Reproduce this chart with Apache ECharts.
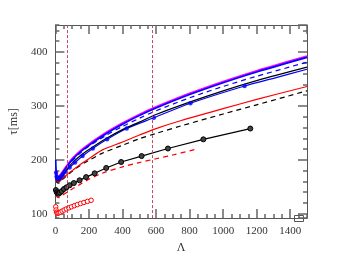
<!DOCTYPE html>
<html><head><meta charset="utf-8">
<script src="https://cdn.jsdelivr.net/npm/echarts@6/dist/echarts.min.js"></script>
<style>html,body{margin:0;padding:0;background:#fff}#c{width:349px;height:259px}</style>
</head><body><div id="c"></div>
<script>
// ---- data ----
const refLines = [70, 580];

const magentaLine = [[3,182],[8,171],[15,168],[25,171],[40,177],[70,190],[100,202],[150,217],[200,229],[300,250],[400,268],[500,284],[600,298],[800,323],[1000,345],[1200,365],[1500,392]];
const blueTop = [[2,200],[5,178],[10,168],[20,167],[40,175],[70,188],[100,200],[150,215],[200,227],[300,248],[400,266],[500,282],[600,296],[800,321],[1000,343],[1200,363],[1500,390]];
const blueDashed = [[5,172],[10,166],[20,165],[40,173],[70,186],[100,198],[150,213],[200,225],[300,245],[400,262],[500,277],[600,291],[800,315],[1000,336],[1200,355],[1500,381]];
const blackSolid = [[5,168],[10,163],[20,161],[40,168],[70,183],[100,194],[150,208],[200,219],[300,239],[400,256],[500,270],[600,284],[800,307],[1000,328],[1200,347],[1500,372]];
const blueMarkers = [[4,176],[7,169],[11,166],[16,165],[23,166],[32,168],[44,172],[61,178],[85,186],[117,195],[162,207],[223,221],[308,238],[425,258],[587,278],[805,305],[1128,337]];
const blueTail = [[1300,351],[1500,368]];
const redSolid = [[5,164],[10,160],[20,159],[40,165],[70,173],[100,180],[150,192],[200,202],[278,218],[400,233],[500,246],[600,258],[750,273],[1000,295],[1200,312],[1500,336]];
const blackDashed = [[5,162],[10,158],[20,157],[40,163],[70,171],[100,179],[150,190],[200,199],[278,212],[400,227],[500,239],[600,249],[750,263],[1000,285],[1200,302],[1500,328]];
const blackMarkers = [[3,144],[8,140],[13,138],[19,137],[27,139],[38,142],[51,146],[66,149],[85,153],[110,157],[144,162],[183,168],[234,175],[303,185],[392,196],[514,207],[671,221],[882,238],[1162,258]];
const redDashed = [[5,135],[10,131],[20,130],[40,134],[70,140],[100,146],[150,155],[200,164],[278,175],[400,187],[500,195],[600,202],[700,209],[829,219]];
const redMarkers = [[2,113],[4,107],[7,103],[11,101],[16,101],[22,102],[30,103],[40,105],[52,107],[65,109],[80,111],[96,113],[113,115],[131,117],[150,119],[170,121],[191,123],[213,125]];

const X_MIN = 0, X_MAX = 1500, X_STEP = 200, X_MINOR = 50;
const Y_MIN = 92, Y_MAX = 450;
// ---------------------------------------

const FONT = 'Liberation Serif';
const AX = '#555';
const TICK = '#666';
const lbl = { show: true, margin: 8, color: '#333', fontFamily: FONT, fontSize: 11, showMinLabel: true, showMaxLabel: false, formatter: v => String(v) };

function xAx(pos, step, len, showLine, showLabel, extra) {
  return Object.assign({
    type: 'value', min: X_MIN, max: X_MAX, interval: step, position: pos,
    axisLine: { show: showLine, onZero: false, lineStyle: { color: AX, width: 1 } },
    axisTick: { show: true, inside: true, length: len, lineStyle: { color: TICK, width: 1.5 } },
    axisLabel: showLabel ? lbl : { show: false },
    splitLine: { show: false }
  }, extra || {});
}
function yAx(pos, split, len, showLine, showLabel, extra) {
  return Object.assign({
    type: 'value', min: Y_MIN, max: Y_MAX, splitNumber: split, position: pos,
    axisLine: { show: showLine, onZero: false, lineStyle: { color: AX, width: 1 } },
    axisTick: { show: true, inside: true, length: len, lineStyle: { color: TICK, width: 1.5 } },
    axisLabel: showLabel ? Object.assign({}, lbl, { showMinLabel: false }) : { show: false },
    splitLine: { show: false }
  }, extra || {});
}

const chart = echarts.init(document.getElementById('c'), null, { renderer: 'canvas' });

function line(data, color, width, type, extra) {
  return Object.assign({
    type: 'line', data: data, xAxisIndex: 0, yAxisIndex: 0,
    showSymbol: false, symbol: 'none', smooth: 0.3,
    lineStyle: { color: color, width: width, type: type },
    itemStyle: { color: color }, silent: true, animation: false, z: 3
  }, extra || {});
}

const option = {
  animation: false,
  grid: { left: 53, right: 42, top: 25, bottom: 35, containLabel: false },
  xAxis: [
    xAx('bottom', X_STEP, 9, true, true, { name: 'Λ', nameLocation: 'middle', nameGap: 20, nameTextStyle: { color: '#333', fontFamily: FONT, fontSize: 12 } }),
    xAx('bottom', X_MINOR, 4, false, false),
    xAx('top', X_STEP, 9, true, false),
    xAx('top', X_MINOR, 4, false, false)
  ],
  yAxis: [
    yAx('left', 5, 9, true, true, { name: 'τ[ms]', nameLocation: 'middle', nameGap: 24, nameTextStyle: { color: '#333', fontFamily: FONT, fontSize: 12 } }),
    yAx('left', 18, 4, false, false),
    yAx('right', 5, 9, true, false),
    yAx('right', 18, 4, false, false)
  ],
  series: [
    line(redMarkers, '#ff0000', 1, 'solid', { showSymbol: true, symbol: 'circle', symbolSize: 4.5, itemStyle: { color: '#fff', borderColor: '#ff0000', borderWidth: 1 }, smooth: false }),
    line(redDashed, '#ff0000', 1.2, [5, 4]),
    line(blackMarkers, '#000000', 1.2, 'solid', { showSymbol: true, symbol: 'circle', symbolSize: 5, itemStyle: { color: '#444', borderColor: '#000', borderWidth: 1 }, smooth: false }),
    line(blackDashed, '#000000', 1.2, [5, 4]),
    line(redSolid, '#ff0000', 1.2, 'solid'),
    line(blueMarkers.concat(blueTail), '#0000ff', 1.2, 'solid'),
    { type: 'scatter', data: blueMarkers, symbol: 'circle', symbolSize: 4.5, itemStyle: { color: '#0000ff' }, silent: true, z: 4 },
    line(blackSolid, '#000000', 1.2, 'solid'),
    line(blueDashed, '#0000ff', 1.2, [5, 4]),
    line(blueTop, '#0000ff', 1.6, 'solid'),
    line(magentaLine, '#ff00ff', 2, 'solid', { z: 2 }),
    {
      type: 'line', data: [], silent: true,
      markLine: {
        symbol: ['none', 'none'], silent: true, label: { show: false },
        lineStyle: { color: '#c04a66', width: 1, type: [3, 2] },
        data: refLines.map(v => ({ xAxis: v }))
      }
    }
  ],
  graphic: [
    { type: 'rect', right: 43, bottom: 35, shape: { width: 9, height: 6 }, style: { fill: 'none', stroke: AX, lineWidth: 1 } }
  ]
};
chart.setOption(option);
</script>
</body></html>
